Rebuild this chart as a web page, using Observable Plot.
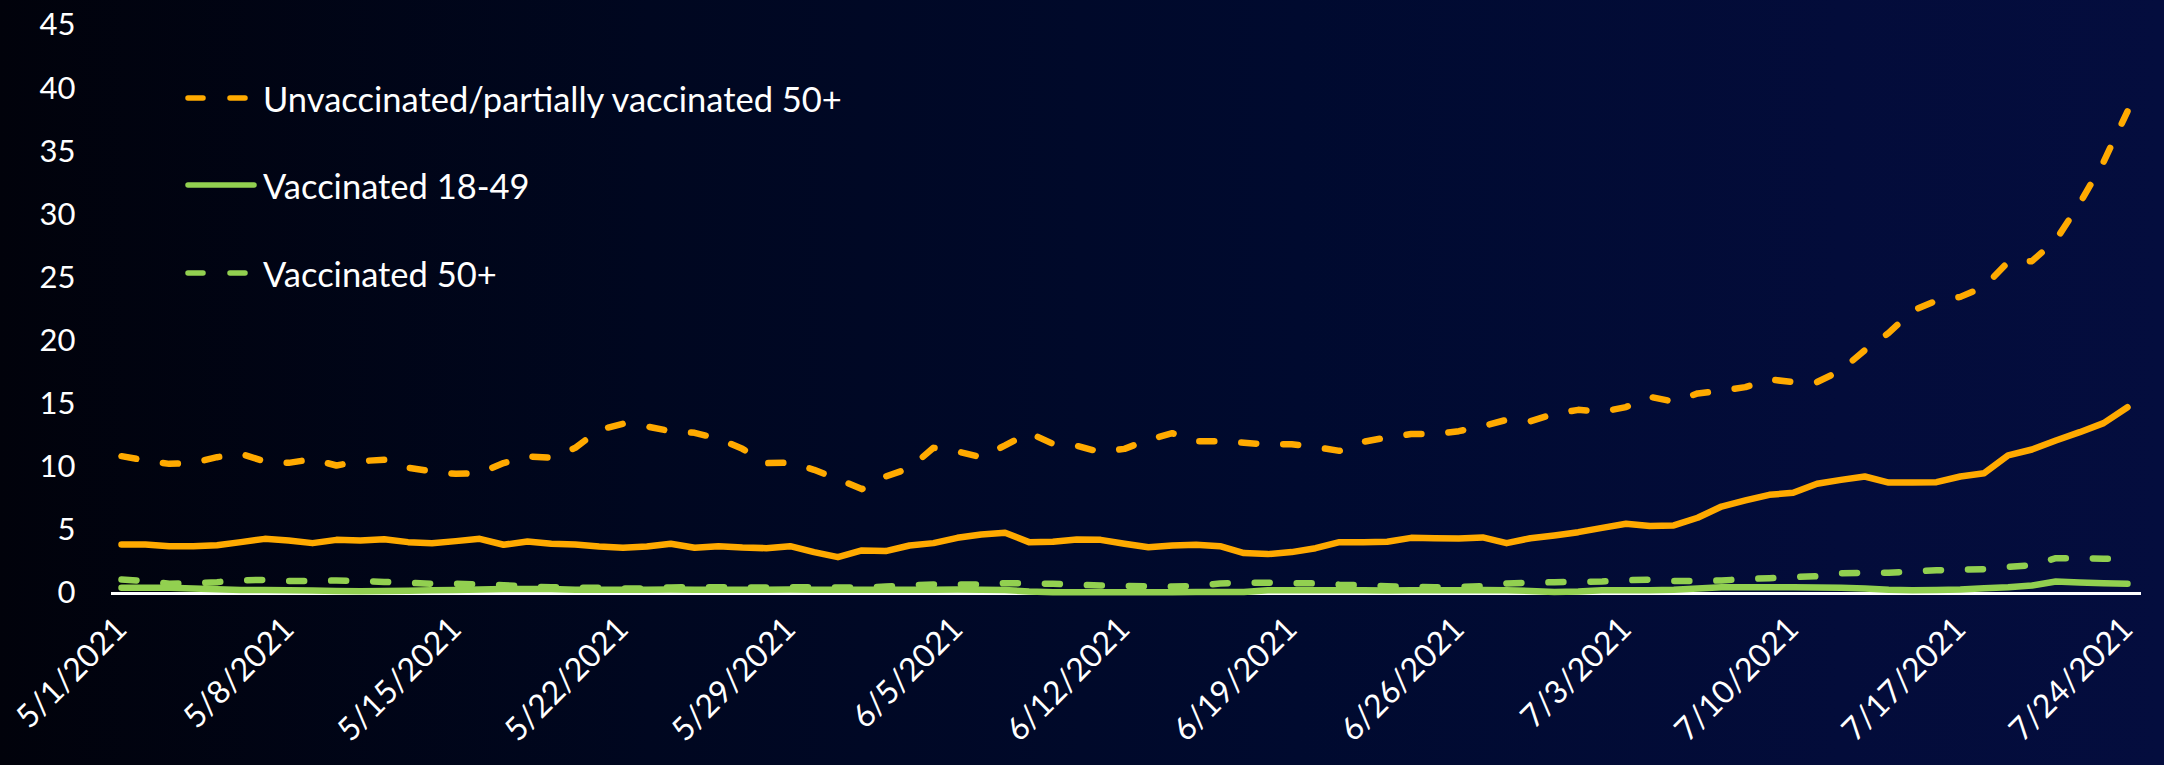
<!DOCTYPE html>
<html>
<head>
<meta charset="utf-8">
<script src="https://cdn.jsdelivr.net/npm/d3@7"></script>
<script src="https://cdn.jsdelivr.net/npm/@observablehq/plot@0.6"></script>
<style>
  html, body { margin: 0; padding: 0; background: #000; }
  #wrap {
    position: relative; width: 2164px; height: 765px; overflow: hidden;
    background: linear-gradient(to right, #01020b 0%, #000720 30%, #000a2f 60%, #030c3a 85%, #040d3e 100%);
    font-family: Lato, "Open Sans", sans-serif;
  }
  #chart svg { display: block; background: transparent !important; }
  .legend { position: absolute; left: 185px; top: 0; color: #fff; font-size: 34.5px; }
  .item { position: absolute; left: 0; height: 40px; display: flex; align-items: center; white-space: nowrap; }
  .item svg { margin-right: 6px; }
</style>
</head>
<body>
<div id="wrap">
  <div id="chart"></div>
  <div class="legend" id="legend"></div>
</div>
<script>
// Daily categories 5/1/2021 .. 7/24/2021
const startDay = "2021-05-01";
const endDay = "2021-07-25";
const tickLabels = ["5/1/2021","5/8/2021","5/15/2021","5/22/2021","5/29/2021","6/5/2021","6/12/2021","6/19/2021","6/26/2021","7/3/2021","7/10/2021","7/17/2021","7/24/2021"];
const yTicks = [0,5,10,15,20,25,30,35,40,45];

const seriesNames = ["Unvaccinated/partially vaccinated 18-49", "Unvaccinated/partially vaccinated 50+", "Vaccinated 18-49", "Vaccinated 50+"];
const legendNames = ["Unvaccinated/partially vaccinated 50+", "Vaccinated 18-49", "Vaccinated 50+"];

const unvax1849 = [3.88,3.88,3.75,3.75,3.83,4.07,4.33,4.2,3.99,4.25,4.2,4.3,4.07,3.99,4.15,4.33,3.86,4.12,3.94,3.88,3.72,3.62,3.72,3.94,3.62,3.75,3.64,3.59,3.75,3.28,2.88,3.41,3.36,3.8,3.99,4.41,4.68,4.81,4.07,4.1,4.28,4.25,3.94,3.67,3.8,3.86,3.75,3.2,3.12,3.28,3.59,4.07,4.07,4.1,4.41,4.38,4.36,4.44,3.99,4.38,4.6,4.86,5.2,5.52,5.34,5.39,6.0,6.89,7.37,7.82,7.98,8.69,9.0,9.27,8.79,8.79,8.82,9.27,9.53,10.94,11.41,12.12,12.78,13.5,14.76];
const unvax50 = [10.88,10.54,10.27,10.35,10.8,11.07,10.46,10.35,10.64,10.14,10.49,10.59,9.96,9.67,9.48,9.53,10.33,10.86,10.75,11.54,12.97,13.44,13.23,12.86,12.73,12.26,11.46,10.33,10.36,9.8,9.06,8.27,9.27,9.93,11.54,11.25,10.8,11.73,12.73,11.86,11.7,11.2,11.46,12.18,12.7,12.07,12.07,11.94,11.81,11.83,11.6,11.3,12.02,12.36,12.63,12.63,12.86,13.26,13.76,13.65,14.24,14.55,14.4,14.77,15.58,15.2,15.85,16.06,16.35,16.96,16.75,16.75,17.67,19.28,20.65,22.4,23.2,23.5,24.3,26.26,26.33,28.0,30.9,34.2,38.2];
const vax1849 = [0.45,0.45,0.45,0.4,0.33,0.28,0.27,0.25,0.23,0.2,0.17,0.2,0.22,0.25,0.28,0.32,0.35,0.35,0.35,0.3,0.3,0.3,0.3,0.31,0.3,0.3,0.29,0.3,0.31,0.3,0.3,0.3,0.29,0.3,0.3,0.31,0.3,0.28,0.15,0.1,0.1,0.1,0.09,0.1,0.1,0.12,0.12,0.12,0.25,0.25,0.26,0.25,0.25,0.24,0.25,0.25,0.25,0.28,0.25,0.2,0.12,0.15,0.25,0.25,0.25,0.3,0.4,0.5,0.5,0.5,0.5,0.48,0.45,0.4,0.3,0.25,0.27,0.32,0.42,0.5,0.63,0.95,0.87,0.82,0.77];
const vax50 = [1.1,1.0,0.78,0.8,0.9,1.05,1.08,1.0,1.0,1.03,1.0,0.92,0.85,0.77,0.77,0.72,0.66,0.55,0.5,0.47,0.45,0.4,0.4,0.48,0.5,0.5,0.47,0.47,0.5,0.5,0.47,0.47,0.55,0.65,0.72,0.72,0.72,0.82,0.8,0.77,0.7,0.63,0.6,0.58,0.55,0.6,0.8,0.85,0.85,0.82,0.8,0.7,0.65,0.58,0.52,0.5,0.52,0.58,0.8,0.85,0.9,0.92,0.95,1.05,1.1,1.0,1.0,1.03,1.15,1.21,1.3,1.37,1.6,1.64,1.64,1.75,1.84,1.9,1.93,2.1,2.25,2.8,2.8,2.75,2.75];

const orange = "#FFAA00";
const green = "#92D050";
const dash = "15,27";

const dates = d3.utcDay.range(new Date(startDay), new Date(endDay));
const parseLabel = s => { const [m, d, y] = s.split("/").map(Number); return new Date(Date.UTC(y, m - 1, d)); };
const tickDates = tickLabels.map(parseLabel);
const fmt = d => `${d.getUTCMonth() + 1}/${d.getUTCDate()}/${d.getUTCFullYear()}`;

const rows = (vals) => vals.map((v, i) => ({date: dates[i], value: v}));

const lineOpts = {x: "date", y: "value", strokeWidth: 6.5, strokeLinecap: "round", strokeLinejoin: "round"};

const chart = Plot.plot({
  width: 2164,
  height: 765,
  marginLeft: 111,
  marginRight: 23,
  marginTop: 25,
  marginBottom: 172,
  style: {background: "transparent", color: "#fff", fontFamily: "Lato, 'Open Sans', sans-serif"},
  x: {type: "utc", domain: [dates[0], dates[dates.length - 1]], insetLeft: 10, insetRight: 14},
  y: {domain: [0, 45]},
  marks: [
    Plot.axisY({ticks: yTicks, tickSize: 0, tickPadding: 36, fontSize: 31, label: null, stroke: "none", fill: "#fff"}),
    Plot.axisX({ticks: tickDates, tickFormat: fmt, tickRotate: -45, tickSize: 0, tickPadding: 30, fontSize: 32, label: null, fill: "#fff"}),
    Plot.ruleY([0], {stroke: "#fff", strokeWidth: 3}),
    Plot.lineY(rows(unvax1849), {...lineOpts, stroke: orange}),
    Plot.lineY(rows(unvax50), {...lineOpts, stroke: orange, strokeDasharray: dash}),
    Plot.lineY(rows(vax50), {...lineOpts, stroke: green, strokeDasharray: dash}),
    Plot.lineY(rows(vax1849), {...lineOpts, stroke: green})
  ]
});
document.getElementById("chart").appendChild(chart);

// Legend (inside plot area, as in the reference)
const legendStyles = [
  {color: orange, dash: dash, top: 78},
  {color: green, dash: null, top: 165},
  {color: green, dash: dash, top: 253}
];
const legend = document.getElementById("legend");
legendNames.forEach((name, k) => {
  const s = legendStyles[k];
  const item = document.createElement("div");
  item.className = "item";
  item.style.top = s.top + "px";
  item.innerHTML = `<svg width="72" height="12"><line x1="3" y1="6" x2="69" y2="6" stroke="${s.color}" stroke-width="5.5" stroke-linecap="round" ${s.dash ? `stroke-dasharray="${s.dash}"` : ""}/></svg><span>${name}</span>`;
  legend.appendChild(item);
});
</script>
</body>
</html>
